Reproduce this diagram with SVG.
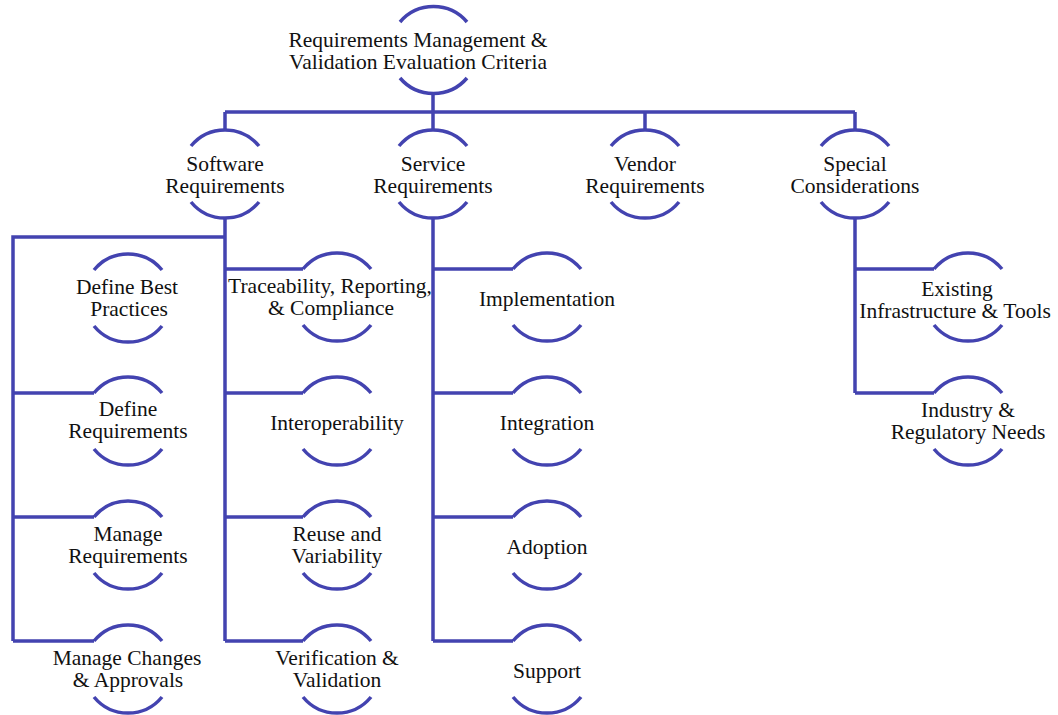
<svg xmlns="http://www.w3.org/2000/svg" width="1058" height="715" viewBox="0 0 1058 715">
<style>
.ln{fill:none;stroke:#4343b0;stroke-width:3.5;stroke-linecap:butt;stroke-linejoin:miter}
.arc{fill:none;stroke:#4343b0;stroke-width:3.5;stroke-linecap:butt}
.t{font-family:'Liberation Serif','Times New Roman','DejaVu Serif',serif;font-size:21.5px;fill:#111;text-anchor:middle}
</style>
<rect width="1058" height="715" fill="#fff"/>
<g id="connectors" class="ln">
<path d="M433,94 V112 M225,112 H855 M225,112 V130 M433,112 V130 M645,112 V130 M855,112 V130"/>
<path d="M225,218 V641 M225,237 H13 V641 M13,393 H94 M13,517 H94 M13,641 H94"/>
<path d="M225,269 H303 M225,393 H303 M225,517 H303 M225,641 H303"/>
<path d="M433,218 V641 M433,269 H513 M433,393 H513 M433,517 H513 M433,641 H513"/>
<path d="M855,218 V393 M855,269 H934 M855,393 H934"/>
</g>
<g id="root">
<path class="arc" d="M400,22 A44 44 0 0 1 467,22 M400,78 A44 44 0 0 0 467,78"/>
<text class="t" x="418" y="47">Requirements Management &amp;</text>
<text class="t" x="418" y="69">Validation Evaluation Criteria</text>
</g>
<g id="software">
<path class="arc" d="M191,146 A44 44 0 0 1 259,146 M191,202 A44 44 0 0 0 259,202"/>
<text class="t" x="225" y="171">Software</text>
<text class="t" x="225" y="193">Requirements</text>
</g>
<g id="service">
<path class="arc" d="M399,146 A44 44 0 0 1 467,146 M399,202 A44 44 0 0 0 467,202"/>
<text class="t" x="433" y="171">Service</text>
<text class="t" x="433" y="193">Requirements</text>
</g>
<g id="vendor">
<path class="arc" d="M611,146 A44 44 0 0 1 679,146 M611,202 A44 44 0 0 0 679,202"/>
<text class="t" x="645" y="171">Vendor</text>
<text class="t" x="645" y="193">Requirements</text>
</g>
<g id="special">
<path class="arc" d="M821,146 A44 44 0 0 1 889,146 M821,202 A44 44 0 0 0 889,202"/>
<text class="t" x="855" y="171">Special</text>
<text class="t" x="855" y="193">Considerations</text>
</g>
<g id="define-best">
<path class="arc" d="M94,270 A44 44 0 0 1 162,270 M94,326 A44 44 0 0 0 162,326"/>
<text class="t" x="127" y="294">Define Best</text>
<text class="t" x="129" y="316">Practices</text>
</g>
<g id="define-req">
<path class="arc" d="M94,393 A44 44 0 0 1 162,393 M94,449 A44 44 0 0 0 162,449"/>
<text class="t" x="128" y="416">Define</text>
<text class="t" x="128" y="438">Requirements</text>
</g>
<g id="manage-req">
<path class="arc" d="M94,517 A44 44 0 0 1 162,517 M94,573 A44 44 0 0 0 162,573"/>
<text class="t" x="128" y="541">Manage</text>
<text class="t" x="128" y="563">Requirements</text>
</g>
<g id="manage-changes">
<path class="arc" d="M94,641 A44 44 0 0 1 162,641 M94,697 A44 44 0 0 0 162,697"/>
<text class="t" x="127" y="665">Manage Changes</text>
<text class="t" x="128" y="687">&amp; Approvals</text>
</g>
<g id="traceability">
<path class="arc" d="M303,269 A44 44 0 0 1 371,269 M303,325 A44 44 0 0 0 371,325"/>
<text class="t" x="330" y="293">Traceability, Reporting,</text>
<text class="t" x="331" y="315">&amp; Compliance</text>
</g>
<g id="interoperability">
<path class="arc" d="M303,393 A44 44 0 0 1 371,393 M303,449 A44 44 0 0 0 371,449"/>
<text class="t" x="337" y="430">Interoperability</text>
</g>
<g id="reuse">
<path class="arc" d="M303,517 A44 44 0 0 1 371,517 M303,573 A44 44 0 0 0 371,573"/>
<text class="t" x="337" y="541">Reuse and</text>
<text class="t" x="337" y="563">Variability</text>
</g>
<g id="verification">
<path class="arc" d="M303,641 A44 44 0 0 1 371,641 M303,697 A44 44 0 0 0 371,697"/>
<text class="t" x="337" y="665">Verification &amp;</text>
<text class="t" x="337" y="687">Validation</text>
</g>
<g id="implementation">
<path class="arc" d="M513,269 A44 44 0 0 1 581,269 M513,325 A44 44 0 0 0 581,325"/>
<text class="t" x="547" y="306">Implementation</text>
</g>
<g id="integration">
<path class="arc" d="M513,393 A44 44 0 0 1 581,393 M513,449 A44 44 0 0 0 581,449"/>
<text class="t" x="547" y="430">Integration</text>
</g>
<g id="adoption">
<path class="arc" d="M513,517 A44 44 0 0 1 581,517 M513,573 A44 44 0 0 0 581,573"/>
<text class="t" x="547" y="554">Adoption</text>
</g>
<g id="support">
<path class="arc" d="M513,641 A44 44 0 0 1 581,641 M513,697 A44 44 0 0 0 581,697"/>
<text class="t" x="547" y="678">Support</text>
</g>
<g id="existing">
<path class="arc" d="M934,269 A44 44 0 0 1 1002,269 M934,325 A44 44 0 0 0 1002,325"/>
<text class="t" x="957" y="296">Existing</text>
<text class="t" x="955" y="318">Infrastructure &amp; Tools</text>
</g>
<g id="industry">
<path class="arc" d="M934,393 A44 44 0 0 1 1002,393 M934,449 A44 44 0 0 0 1002,449"/>
<text class="t" x="968" y="417">Industry &amp;</text>
<text class="t" x="968" y="439">Regulatory Needs</text>
</g>
</svg>
